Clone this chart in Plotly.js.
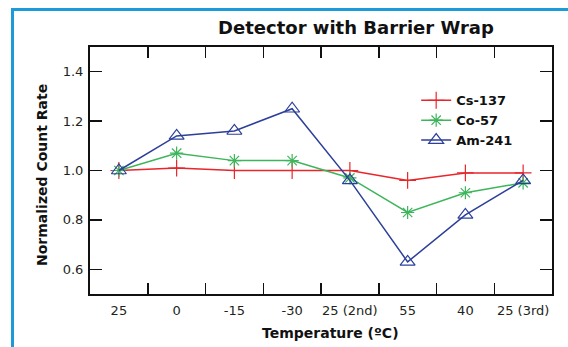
<!DOCTYPE html>
<html>
<head>
<meta charset="utf-8">
<script src="https://cdn.plot.ly/plotly-3.0.1.min.js"></script>
<style>
html,body{margin:0;padding:0;background:#fff;}
#wrap{position:relative;width:568px;height:347px;overflow:hidden;}
#chart{width:568px;height:347px;}
#frame{position:absolute;left:11px;top:8px;width:600px;height:400px;border-left:3px solid #1b9bd7;border-top:3px solid #1b9bd7;pointer-events:none;}
</style>
</head>
<body>
<div id="wrap"><div id="chart"></div><div id="frame"></div></div>
<script>
const categories = ["25", "0", "-15", "-30", "25 (2nd)", "55", "40", "25 (3rd)"];
const cs137 = [1.00, 1.01, 1.00, 1.00, 1.00, 0.96, 0.99, 0.99];
const co57  = [1.00, 1.07, 1.04, 1.04, 0.97, 0.83, 0.91, 0.95];
const am241 = [1.00, 1.14, 1.16, 1.25, 0.96, 0.63, 0.82, 0.96];
const yTicks = [0.6, 0.8, 1.0, 1.2, 1.4];

const FONT = "DejaVu Sans, sans-serif";
const traces = [
  {x: categories, y: cs137, name: "Cs-137", type: "scatter", mode: "lines+markers",
   line: {color: "#e8262b", width: 1.5},
   marker: {symbol: "cross-thin-open", size: 12, color: "#e8262b", line: {color: "#e8262b", width: 1.2}}},
  {x: categories, y: co57, name: "Co-57", type: "scatter", mode: "lines+markers",
   line: {color: "#3db55b", width: 1.5},
   marker: {symbol: "asterisk-open", size: 11, color: "#3db55b", line: {color: "#3db55b", width: 1.2}}},
  {x: categories, y: am241, name: "Am-241", type: "scatter", mode: "lines+markers",
   line: {color: "#2c3f99", width: 1.5},
   marker: {symbol: "triangle-up-open", size: 13, color: "#2c3f99", line: {color: "#2c3f99", width: 1.2}}}
];

const layout = {
  width: 568, height: 347,
  margin: {l: 90, r: 16, t: 47, b: 53},
  paper_bgcolor: "#fff", plot_bgcolor: "#fff",
  font: {family: FONT, color: "#231f20", size: 13},
  title: {text: "<b>Detector with Barrier Wrap</b>", font: {family: FONT, size: 18, color: "#111"},
          x: 356/568, xref: "container", xanchor: "center", y: 1 - 27.5/347, yref: "container", yanchor: "middle"},
  showlegend: true,
  legend: {x: 0.706, y: 0.845, xanchor: "left", yanchor: "top", bgcolor: "rgba(0,0,0,0)",
           font: {family: FONT, size: 13, color: "#111", weight: "bold"}, tracegroupgap: 0, itemwidth: 30},
  xaxis: {type: "category", range: [-0.5, 7.5], tickson: "boundaries", ticks: "inside", ticklen: 11,
          tickwidth: 1.5, tickcolor: "#111", showline: true, linewidth: 2, linecolor: "#111", mirror: "ticks",
          showgrid: false, zeroline: false, tickfont: {size: 13}, tickangle: 0, fixedrange: true,
          ticklabelstandoff: 3},
  xaxis2: {overlaying: "x", range: [-0.5, 7.5], tickvals: [0,1,2,3,4,5,6,7], showticklabels: false,
           ticks: "inside", ticklen: 2, tickwidth: 1, tickcolor: "#111", mirror: "ticks", showline: false,
           showgrid: false, zeroline: false},
  yaxis: {range: [0.5, 1.5], tickvals: yTicks, tickformat: ".1f", ticks: "inside", ticklen: 12, tickwidth: 1.5,
          tickcolor: "#111", showline: true, linewidth: 2, linecolor: "#111", mirror: "ticks",
          showgrid: false, zeroline: false, tickfont: {size: 13}, ticklabelstandoff: 2},
  annotations: [
    {text: "<b>Normalized Count Rate</b>", xref: "paper", yref: "paper", x: (42-90)/462, y: (294.3-175)/247.6,
     textangle: -90, showarrow: false, font: {size: 14, color: "#111"}, xanchor: "center", yanchor: "middle"},
    {text: "<b>Temperature (ºC)</b>", xref: "paper", yref: "paper", x: (330-90)/462, y: -(333-294.3)/247.6,
     showarrow: false, font: {size: 14, color: "#111"}, xanchor: "center", yanchor: "middle"}
  ]
};

Plotly.newPlot("chart", traces, layout, {displayModeBar: false, staticPlot: true});
</script>
</body>
</html>
